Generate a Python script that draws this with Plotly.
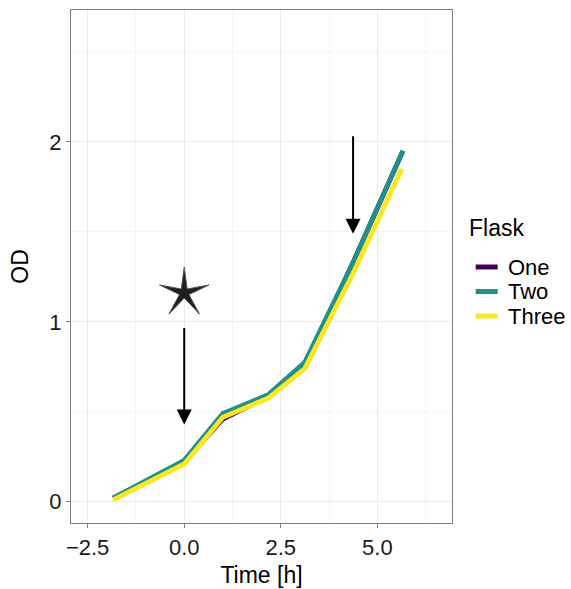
import numpy as np
import plotly.graph_objects as go

# ---- data ----
flasks = ["One", "Two", "Three"]
colors = ["#440154", "#21908C", "#FDE725"]
time_one = [-1.84, 0.0, 1.0, 2.17, 3.12, 4.37, 5.66]
od_one = [0.02, 0.22, 0.46, 0.585, 0.755, 1.33, 1.95]
time_two = [-1.84, 0.0, 1.0, 2.17, 3.12, 4.37, 5.66]
od_two = [0.02, 0.23, 0.49, 0.595, 0.775, 1.33, 1.95]
time_three = [-1.84, 0.0, 1.0, 2.17, 3.12, 4.37, 5.63]
od_three = [0.01, 0.21, 0.47, 0.575, 0.74, 1.27, 1.85]

arrow_x = [0.0, 4.37]
arrow_y_start = [0.974, 2.04]
arrow_y_end = [0.43, 1.49]

star_x = 0.0
star_y = 1.16

x_ticks = [-2.5, 0.0, 2.5, 5.0]
y_ticks = [0, 1, 2]

font_family = "Liberation Sans, Arial, sans-serif"

fig = go.Figure()
series = [(time_one, od_one), (time_two, od_two), (time_three, od_three)]
for name, col, (t, od) in zip(flasks, colors, series):
    fig.add_trace(go.Scatter(x=t, y=od, mode="lines", name=name,
                             line=dict(color=col, width=4.8), showlegend=False))

# star drawn as a thin 5-pointed polygon around its centre (pixel scale converted)
px_x = 38.68   # pixels per x unit
px_y = 180.0   # pixels per y unit
r_out, r_in = 26.0, 5.0
ang = np.pi / 2 + np.arange(10) * np.pi / 5
rad = np.where(np.arange(10) % 2 == 0, r_out, r_in)
sx = star_x + rad * np.cos(ang) / px_x
sy = star_y + rad * np.sin(ang) / px_y
fig.add_trace(go.Scatter(x=np.append(sx, sx[0]), y=np.append(sy, sy[0]),
                         mode="lines", fill="toself", fillcolor="#1e1e1e",
                         line=dict(color="#555555", width=1),
                         showlegend=False, hoverinfo="skip"))

for ax_, ys, ye in zip(arrow_x, arrow_y_start, arrow_y_end):
    fig.add_annotation(x=ax_, y=ye, ax=ax_, ay=ys, xref="x", yref="y",
                       axref="x", ayref="y", showarrow=True, text="",
                       arrowhead=2, arrowsize=1.5, arrowwidth=2,
                       arrowcolor="#000000")

# ---- custom legend (paper coordinates) ----
legend_top_px = 228      # "Flask" title centre, px from top
legend_rows_px = [267, 291.5, 316]
plot_top, plot_h = 10, 513
plot_left, plot_w = 71, 381.3


def py(p):
    return 1 - (p - plot_top) / plot_h


def px(p):
    return (p - plot_left) / plot_w


fig.add_annotation(x=px(467), y=py(legend_top_px), xref="paper", yref="paper",
                   text="Flask", showarrow=False, xanchor="left", yanchor="middle",
                   font=dict(size=23, color="#000000", family=font_family))
for name, col, row in zip(flasks, colors, legend_rows_px):
    fig.add_shape(type="line", xref="paper", yref="paper",
                  x0=px(476), x1=px(498), y0=py(row), y1=py(row),
                  line=dict(color=col, width=5))
    fig.add_annotation(x=px(507), y=py(row), xref="paper", yref="paper",
                       text=name, showarrow=False, xanchor="left", yanchor="middle",
                       borderpad=0,
                       font=dict(size=22, color="#000000", family=font_family))

grid_col = "#ebebeb"
fig.update_xaxes(range=[-2.93, 6.93], tickvals=x_ticks,
                 ticktext=[f"{v:.1f}".replace("-", "\u2212") for v in x_ticks],
                 showgrid=True, gridcolor=grid_col, gridwidth=1.1,
                 minor=dict(tickvals=[-1.25, 1.25, 3.75, 6.25], showgrid=True,
                            gridcolor="#f4f4f4", gridwidth=0.6),
                 showline=True, linecolor="#7f7f7f", linewidth=1.2, mirror=True,
                 ticks="outside", ticklen=4, tickcolor="#7f7f7f",
                 tickfont=dict(size=22, color="#1a1a1a", family=font_family),
                 title=dict(text="Time [h]", font=dict(size=23, color="#000000", family=font_family), standoff=8),
                 zeroline=False, automargin=False)
fig.update_yaxes(range=[-0.118, 2.733], tickvals=y_ticks,
                 ticktext=[str(v) for v in y_ticks],
                 showgrid=True, gridcolor=grid_col, gridwidth=1.1,
                 minor=dict(tickvals=[0.5, 1.5, 2.5], showgrid=True,
                            gridcolor="#f4f4f4", gridwidth=0.6),
                 showline=True, linecolor="#7f7f7f", linewidth=1.2, mirror=True,
                 ticks="outside", ticklen=4, tickcolor="#7f7f7f",
                 tickfont=dict(size=22, color="#1a1a1a", family=font_family),
                 title=dict(text="OD", font=dict(size=23, color="#000000", family=font_family), standoff=14),
                 zeroline=False, automargin=False)

fig.update_layout(width=571, height=589,
                  margin=dict(l=71, r=119, t=10, b=66),
                  plot_bgcolor="white", paper_bgcolor="white",
                  font=dict(family=font_family),
                  showlegend=False)

fig.write_html("out.html")
